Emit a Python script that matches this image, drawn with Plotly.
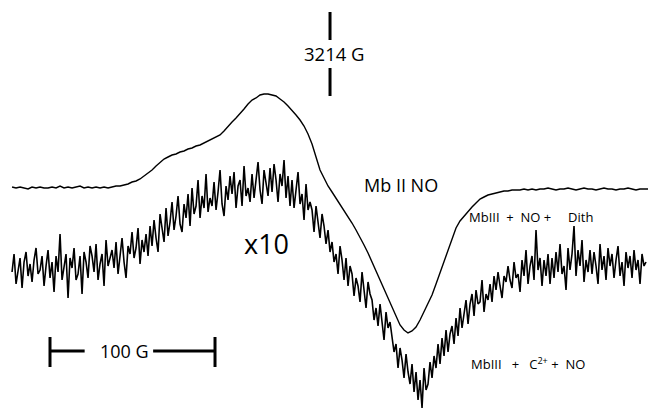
import numpy as np
import plotly.graph_objects as go

# Magnetic field sweep (Gauss)
FIELD_START = 3021.3
FIELD_END = 3406.7
G_MARK = 3214  # field marker

# Mb(II)NO first-derivative EPR signal (arb. units), evenly sampled across the sweep
mbno_signal = [
    1, 0, 1, 0, -1, 1, 0, 1, 0, 0,
    1, 0, 2, 0, 1, 0, 1, 2, 0, 1,
    0, 1, 0, 1, 0, 1, 2, 2, 3, 4,
    6, 7, 9, 12, 15, 18, 22, 26, 29, 31,
    33, 34, 36, 37, 39, 40, 42, 43, 45, 47,
    49, 51, 53, 57, 62, 66, 70, 74, 79, 84,
    88, 90, 93, 94, 94, 93, 92, 89, 86, 82,
    78, 73, 68, 62, 54, 44, 31, 18, 10, 2,
    -4, -10, -16, -22, -28, -35, -42, -49, -57, -65,
    -74, -83, -92, -101, -110, -120, -129, -137, -142, -145,
    -143, -139, -132, -124, -116, -107, -96, -85, -73, -61,
    -50, -40, -33, -28, -23, -19, -15, -11, -9, -7,
    -6, -5, -4, -3, -3, -2, -2, -2, -1, -2,
    -1, -2, -1, -1, 0, -1, -2, -1, -1, 0,
    -1, -2, -1, 0, -1, -1, -2, -1, 0, -1,
    -1, -2, -1, -1, 0, -1, -2, -1, -1, -1,
]

# MbIII + C2+ + NO signal, shown x10 (arb. units)
cu_signal = [
    -6, 12, -18, -2, 8, -22, 4, 14, -10, 2,
    -16, 6, 18, -8, -4, 10, -20, 0, 16, -12,
    4, -26, 10, -6, 32, -14, 2, 12, -32, 8,
    -2, 18, -14, -8, 10, -28, 14, 4, -12, 20,
    10, -6, 22, -14, 2, 12, -20, 26, 0, 8,
    16, -2, 24, -8, 8, 28, 4, -12, 20, 12,
    34, 8, 18, 38, 2, 26, 14, 32, 10, 40,
    20, 46, 28, 14, 52, 36, 24, 58, 30, 44,
    64, 36, 50, 70, 42, 34, 62, 48, 72, 40,
    78, 52, 60, 86, 48, 70, 58, 92, 54, 68,
    60, 84, 56, 74, 96, 62, 50, 80, 66, 90,
    72, 94, 58, 80, 86, 60, 100, 70, 78, 64,
    92, 68, 84, 104, 76, 62, 96, 82, 70, 98,
    74, 102, 86, 64, 92, 80, 106, 68, 90, 60,
    86, 58, 74, 94, 62, 72, 46, 82, 56, 64,
    56, 34, 60, 44, 28, 52, 40, 22, 36, 14,
    24, 4, 12, -8, 20, 6, -14, 8, -20, 0,
    -8, -30, -12, -20, -36, -6, -24, -42, -16, -28,
    -34, -54, -42, -60, -38, -58, -74, -46, -62, -56,
    -72, -86, -78, -102, -82, -94, -112, -88, -106, -118,
    -98, -126, -106, -134, -114, -142, -102, -124, -118, -96,
    -112, -90, -102, -78, -98, -72, -90, -64, -86, -68,
    -60, -78, -52, -70, -42, -62, -48, -34, -58, -38,
    -28, -50, -24, -38, -36, -14, -46, -28, -34, -18,
    -36, -10, -24, -6, -20, -32, -10, -16, 0, -14,
    -22, 4, -12, -8, -26, 6, -10, 16, -18, 0,
    10, -14, 36, -4, 8, -20, 6, -10, 12, -18,
    8, -12, 14, -6, 22, -8, 0, -24, 18, -4,
    12, 40, -10, 16, 0, 26, -16, 6, -6, 16,
    -8, 14, 0, -18, 22, -4, 10, -14, 18, 0,
    12, -12, 6, 20, -10, 4, -20, 14, -2, 10,
    -12, 16, -4, 6, -18, 12, 0, 4,
]

# Vertical offsets of the stacked traces
MBNO_OFFSET = 224
CU_OFFSET = 146

field_mbno = np.linspace(FIELD_START, FIELD_END, len(mbno_signal))
field_cu = np.linspace(FIELD_START, 3405.5, len(cu_signal))

FONT = "'Open Sans', sans-serif"
NB = "\u00a0"  # non-breaking space keeps the wide gaps in the sample labels

fig = go.Figure()
fig.add_trace(go.Scatter(
    x=field_mbno, y=np.array(mbno_signal) + MBNO_OFFSET,
    mode="lines", line=dict(color="black", width=1.4), hoverinfo="skip",
))
fig.add_trace(go.Scatter(
    x=field_cu, y=np.array(cu_signal) + CU_OFFSET,
    mode="lines", line=dict(color="black", width=1.6), hoverinfo="skip",
))

# Field marker at 3214 G
for y0, y1 in [(372, 400), (316, 344)]:
    fig.add_shape(type="line", x0=G_MARK, x1=G_MARK, y0=y0, y1=y1,
                  line=dict(color="black", width=3))

# 100 G scale bar
bar_x0 = 3044.3
bar_x1 = bar_x0 + 100
fig.add_shape(type="line", x0=bar_x0, x1=bar_x0, y0=45, y1=75, line=dict(color="black", width=3))
fig.add_shape(type="line", x0=bar_x1, x1=bar_x1, y0=45, y1=75, line=dict(color="black", width=3))
fig.add_shape(type="line", x0=bar_x0, x1=bar_x0 + 21, y0=61, y1=61, line=dict(color="black", width=3))
fig.add_shape(type="line", x0=bar_x1 - 37.5, x1=bar_x1, y0=61, y1=61, line=dict(color="black", width=3))

dith_label = "MbIII" + NB * 2 + "+" + NB * 2 + "NO" + NB + "+" + NB * 5 + "Dith"
cu_label = "MbIII" + NB * 3 + "+" + NB * 3 + "C<sup>2+</sup>" + NB + "+" + NB * 2 + "NO"

annotations = [
    dict(x=G_MARK + 2.5, y=359, text="3214 G", size=18.5, anchor="center"),
    dict(x=3089.2, y=61, text="100 G", size=18, anchor="center"),
    dict(x=3233.4, y=227, text="Mb II NO", size=18, anchor="left"),
    dict(x=3175.8, y=169, text="x10", size=27, anchor="center"),
    dict(x=3297, y=195, text=dith_label, size=13, anchor="left"),
    dict(x=3298.2, y=49, text=cu_label, size=13, anchor="left"),
]
for a in annotations:
    fig.add_annotation(x=a["x"], y=a["y"], text=a["text"], showarrow=False,
                       xanchor=a["anchor"], yanchor="middle",
                       font=dict(family=FONT, size=a["size"], color="black"))

fig.update_layout(
    width=648, height=412,
    margin=dict(l=0, r=0, t=0, b=0),
    paper_bgcolor="white", plot_bgcolor="white",
    showlegend=False,
    xaxis=dict(range=[3014, 3406.7], visible=False, fixedrange=True),
    yaxis=dict(range=[0, 412], visible=False, fixedrange=True),
)

fig.write_html("out.html")
